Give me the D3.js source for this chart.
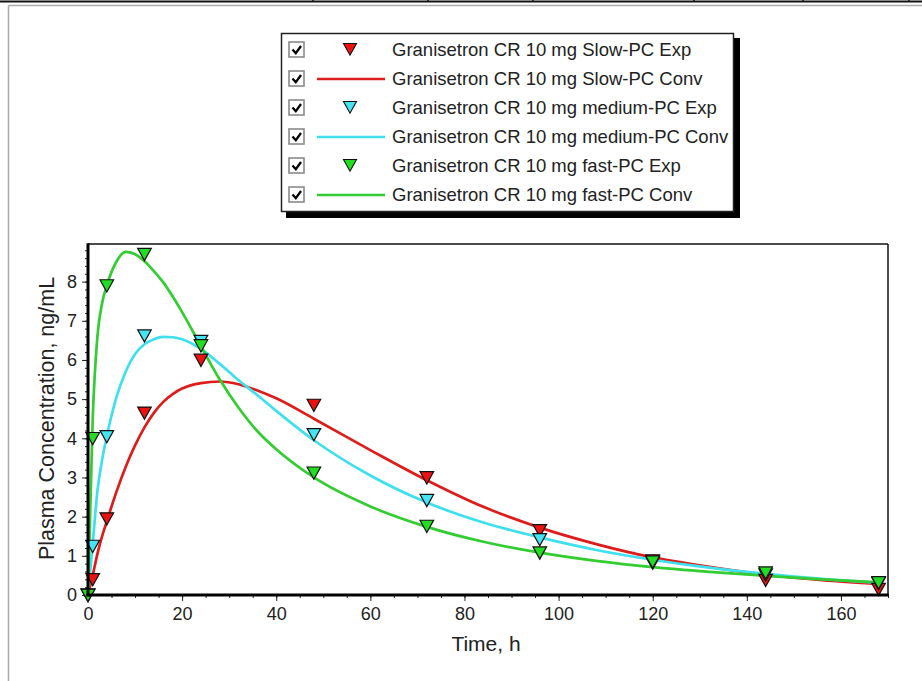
<!DOCTYPE html>
<html><head><meta charset="utf-8">
<script src="https://cdn.jsdelivr.net/npm/d3@7"></script>
<style>body{margin:0;background:#fff}svg{display:block}text{font-family:"Liberation Sans",Arial,sans-serif}</style>
</head><body>
<svg id="c" width="922" height="681"></svg>
<script>
// ---- data ----
const expTimes = [0, 1, 4, 12, 24, 48, 72, 96, 120, 144, 168];
const slowExp   = [0, 0.40, 1.95, 4.65, 6.00, 4.85, 3.00, 1.65, 0.88, 0.38, 0.15];
const mediumExp = [0, 1.25, 4.05, 6.62, 6.48, 4.10, 2.42, 1.42, 0.82, 0.52, 0.30];
const fastExp   = [0, 4.00, 7.90, 8.70, 6.37, 3.12, 1.76, 1.08, 0.85, 0.57, 0.32];

const convTimes  = [0, 1, 2, 3, 4, 6, 8, 10, 12, 14, 16, 18, 20, 24, 28, 32, 36, 40, 48, 60, 72, 84, 96, 108, 120, 132, 144, 156, 168];
const slowConv   = [0, 0.50, 1.05, 1.50, 1.88, 2.62, 3.27, 3.82, 4.28, 4.65, 4.93, 5.13, 5.27, 5.41, 5.45, 5.38, 5.22, 5.02, 4.50, 3.70, 2.93, 2.25, 1.72, 1.30, 0.96, 0.72, 0.52, 0.38, 0.28];
const mediumConv = [0, 1.30, 2.65, 3.45, 4.05, 5.03, 5.70, 6.15, 6.40, 6.53, 6.59, 6.58, 6.53, 6.28, 5.90, 5.48, 5.10, 4.70, 3.95, 3.05, 2.36, 1.85, 1.47, 1.15, 0.90, 0.70, 0.54, 0.41, 0.31];
const fastConv   = [0, 4.50, 6.60, 7.45, 7.90, 8.50, 8.76, 8.70, 8.52, 8.27, 7.98, 7.62, 7.22, 6.35, 5.50, 4.78, 4.18, 3.72, 3.00, 2.26, 1.74, 1.36, 1.08, 0.87, 0.71, 0.59, 0.49, 0.40, 0.32];

const legendLabels = [
  "Granisetron CR 10 mg Slow-PC Exp",
  "Granisetron CR 10 mg Slow-PC Conv",
  "Granisetron CR 10 mg medium-PC Exp",
  "Granisetron CR 10 mg medium-PC Conv",
  "Granisetron CR 10 mg fast-PC Exp",
  "Granisetron CR 10 mg fast-PC Conv"
];
const xTicks = [0, 20, 40, 60, 80, 100, 120, 140, 160];
const yTicks = [0, 1, 2, 3, 4, 5, 6, 7, 8];
const xTitle = "Time, h";
const yTitle = "Plasma Concentration, ng/mL";

// ---- styles ----
const lineColors   = ["#dd1c1c", "#3fe0ee", "#33cc33"];
const markerColors = ["#ee1111", "#44e4f2", "#22dd22"];

const svg = d3.select("#c");
const L = 88, R = 888, T = 244, B = 595;
const x = d3.scaleLinear().domain([0, 170]).range([L, R]);
const y = d3.scaleLinear().domain([0, 8.96]).range([B, T]);

// page frame
svg.append("line").attr("x1",0).attr("x2",922).attr("y1",1.5).attr("y2",1.5).attr("stroke","#111").attr("stroke-width",2);
[313, 428, 533, 694, 803, 909].forEach(px => {
  svg.append("line").attr("x1",px).attr("x2",px).attr("y1",0).attr("y2",2).attr("stroke","#111").attr("stroke-width",1.5);
});
svg.append("line").attr("x1",8.5).attr("x2",922).attr("y1",5.5).attr("y2",5.5).attr("stroke","#aaa").attr("stroke-width",1.5);
svg.append("line").attr("x1",8.5).attr("x2",8.5).attr("y1",5.5).attr("y2",681).attr("stroke","#aaa").attr("stroke-width",1.5);

// axes ticks
const gx = svg.append("g").attr("transform",`translate(0,${B})`);
gx.call(d3.axisBottom(x).tickValues(d3.range(0, 171, 5)).tickSize(3).tickFormat(""));
gx.call(g => g.select(".domain").remove());
const gx2 = svg.append("g").attr("transform",`translate(0,${B})`);
gx2.call(d3.axisBottom(x).tickValues(xTicks).tickSize(6).tickPadding(6));
gx2.select(".domain").remove();
gx2.selectAll("text").attr("font-size",18).attr("fill","#222");
gx.selectAll("line").attr("stroke","#222");
gx2.selectAll("line").attr("stroke","#222");

const gy = svg.append("g").attr("transform",`translate(${L},0)`);
gy.call(d3.axisLeft(y).tickValues(d3.range(0, 8.9, 0.2)).tickSize(3).tickFormat(""));
gy.select(".domain").remove();
const gy2 = svg.append("g").attr("transform",`translate(${L},0)`);
gy2.call(d3.axisLeft(y).tickValues(yTicks).tickSize(6).tickPadding(5));
gy2.select(".domain").remove();
gy2.selectAll("text").attr("font-size",18).attr("fill","#222");
gy.selectAll("line").attr("stroke","#222");
gy2.selectAll("line").attr("stroke","#222");

// axis titles
svg.append("text").attr("x",(L+R)/2 - 2).attr("y",651).attr("text-anchor","middle").attr("font-size",21).attr("fill","#222").text(xTitle);
svg.append("text").attr("transform",`translate(54,${(T+B)/2 - 1}) rotate(-90)`).attr("text-anchor","middle").attr("font-size",21.5).attr("fill","#222").text(yTitle);

// series
const plot = svg.append("g");
const lineGen = d3.line().x(d => x(d[0])).y(d => y(d[1])).curve(d3.curveMonotoneX);
const tri = (cx, cy, s) => `M${cx - s},${cy - s * 0.85}L${cx + s},${cy - s * 0.85}L${cx},${cy + s * 0.95}Z`;

const series = [[slowExp, slowConv], [mediumExp, mediumConv], [fastExp, fastConv]];
series.forEach((s, i) => {
  plot.append("path").datum(convTimes.map((t, k) => [t, s[1][k]]))
    .attr("d", lineGen).attr("fill","none").attr("stroke",lineColors[i]).attr("stroke-width",2.7);
});
series.forEach((s, i) => {
  plot.selectAll(null).data(expTimes.map((t, k) => [t, s[0][k]])).enter().append("path")
    .attr("d", d => tri(x(d[0]), y(d[1]), 6.8))
    .attr("fill", markerColors[i]).attr("stroke","#111").attr("stroke-width",1.2);
});

// plot frame
svg.append("line").attr("x1",L).attr("x2",R).attr("y1",T).attr("y2",T).attr("stroke","#111").attr("stroke-width",1.5);
svg.append("line").attr("x1",R).attr("x2",R).attr("y1",T).attr("y2",B).attr("stroke","#111").attr("stroke-width",1.5);
svg.append("line").attr("x1",L).attr("x2",L).attr("y1",T-0.75).attr("y2",B+1.5).attr("stroke","#000").attr("stroke-width",3);
svg.append("line").attr("x1",L-1.5).attr("x2",R+0.75).attr("y1",B).attr("y2",B).attr("stroke","#000").attr("stroke-width",3);

// legend
const lg = svg.append("g");
lg.append("rect").attr("x",286).attr("y",38).attr("width",454).attr("height",180).attr("fill","#000");
lg.append("rect").attr("x",281.5).attr("y",33.5).attr("width",452).attr("height",178).attr("fill","#fff").attr("stroke","#222").attr("stroke-width",1.5);
legendLabels.forEach((lab, i) => {
  const cy = 50 + i * 29;
  const k = Math.floor(i / 2);
  lg.append("rect").attr("x",289).attr("y",cy-8).attr("width",15).attr("height",15).attr("fill","#fff").attr("stroke","#8a8a8a").attr("stroke-width",1.6);
  lg.append("path").attr("d",`M${292.5},${cy-0.5}L${295.8},${cy+3.2}L${301},${cy-4}`).attr("fill","none").attr("stroke","#000").attr("stroke-width",2.3);
  if (i % 2 === 0) {
    lg.append("path").attr("d", tri(350, cy - 1, 6.5)).attr("fill", markerColors[k]).attr("stroke","#111").attr("stroke-width",1.1);
  } else {
    lg.append("line").attr("x1",317).attr("x2",385).attr("y1",cy).attr("y2",cy).attr("stroke",lineColors[k]).attr("stroke-width",2.7);
  }
  lg.append("text").attr("x",392).attr("y",cy+6).attr("font-size",18.5).attr("fill","#222").text(lab);
});
</script>
</body></html>
